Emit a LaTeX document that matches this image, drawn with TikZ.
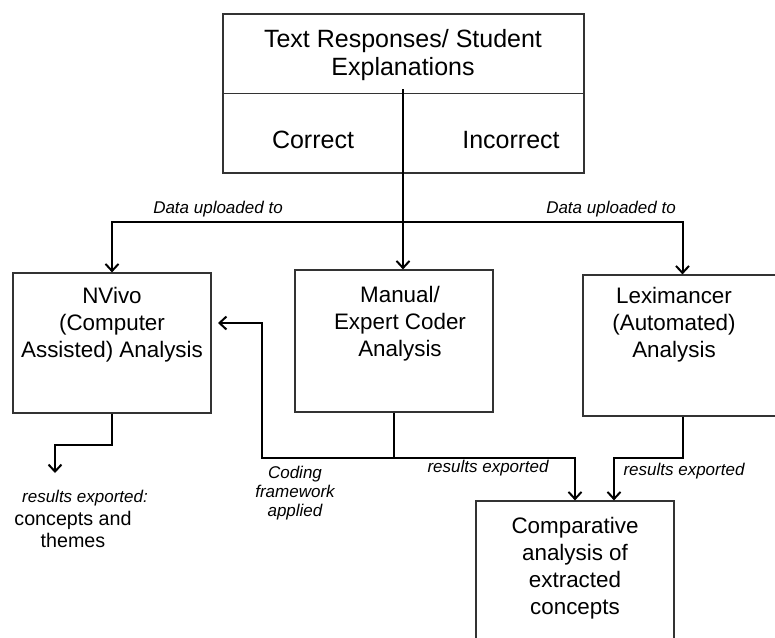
\documentclass[tikz,border=0pt]{standalone}
\usepackage{fontspec}
\setmainfont{Liberation Sans}
\usepackage{tikz}
\usetikzlibrary{arrows.meta,positioning,calc}

\tikzset{
  box/.style={draw=black!80, line width=1.2pt, rectangle, inner sep=0pt},
  boxtext/.style={align=center, inner sep=0pt, anchor=base, font=\fontsize{22.4}{27}\selectfont},
  note/.style={align=center, inner sep=0pt, anchor=base, font=\fontsize{17}{19}\selectfont\itshape},
  flow/.style={line width=2pt, -{Straight Barb[length=7pt,width=13pt]}},
  link/.style={line width=2pt}
}

\begin{document}
\begin{tikzpicture}[x=1pt, y=-1pt]
    \useasboundingbox (0,0) rectangle (775,637);
    \clip (0,0) rectangle (775,637);

    % Source box
    \node[box, minimum width=361pt, minimum height=159pt] (src) at (403.5,93.5) {};
    \draw[draw=black!80, line width=1.2pt] (src.west) -- (src.east);
    \node[boxtext, font=\fontsize{25}{28}\selectfont] (title) at (403,75) {Text Responses/ Student\\Explanations};
    \node[boxtext, font=\fontsize{25}{28}\selectfont] (correct) at (313,148) {Correct};
    \node[boxtext, font=\fontsize{25}{28}\selectfont] (incorrect) at (511,148) {Incorrect};

    % Analysis boxes
    \node[box, minimum width=198pt, minimum height=140pt] (nvivo) at (112,343) {};
    \node[boxtext] (nvivotext) at (112,357) {NVivo\\(Computer\\Assisted) Analysis};
    \node[box, minimum width=198pt, minimum height=142pt] (manual) at (394,341) {};
    \node[boxtext] (manualtext) at (400,356) {Manual/\\Expert Coder\\Analysis};
    \node[box, minimum width=199pt, minimum height=141pt] (lex) at (682.5,345.5) {};
    \node[boxtext] (lextext) at (674,357) {Leximancer\\(Automated)\\Analysis};

    % Comparison box
    \node[box, minimum width=198pt, minimum height=159pt] (comp) at (575,580.5) {};
    \node[boxtext] (comptext) at (575,614) {Comparative\\analysis of\\extracted\\concepts};

    % Data uploaded
    \coordinate (split) at (403,89);
    \coordinate (fork) at (403,222);
    \draw[flow] (split) -- (split |- manual.north);
    \draw[flow] (fork) -| (nvivo.north);
    \draw[flow] (fork) -| (lex.north);
    \node[note] (up1) at (218,213) {Data uploaded to};
    \node[note] (up2) at (611,213) {Data uploaded to};

    % Results exported
    \coordinate (nvout) at (55,473);
    \draw[flow] (nvivo.south) -- ++(0,31) -| (nvout);
    \node[note] (res1) at (85,502) {results exported:};
    \node[boxtext, font=\fontsize{19.7}{22}\selectfont] (themes) at (73,547) {concepts and\\themes};

    \coordinate (mjoin) at ($(manual.south)+(0,45)$);
    \draw[link] (manual.south) -- (mjoin);
    \draw[flow] (mjoin) -| (comp.north);
    \node[note] (res2) at (488,472) {results exported};

    \draw[flow] (lex.south) -- ++(0,41) -| ([xshift=39pt]comp.north);
    \node[note] (res3) at (684,475) {results exported};

    % Coding framework
    \coordinate (codein) at (218,323);
    \draw[flow] (mjoin) -| (262,323) -- (codein);
    \node[note] (coding) at (295,516) {Coding\\framework\\applied};
\end{tikzpicture}
\end{document}
